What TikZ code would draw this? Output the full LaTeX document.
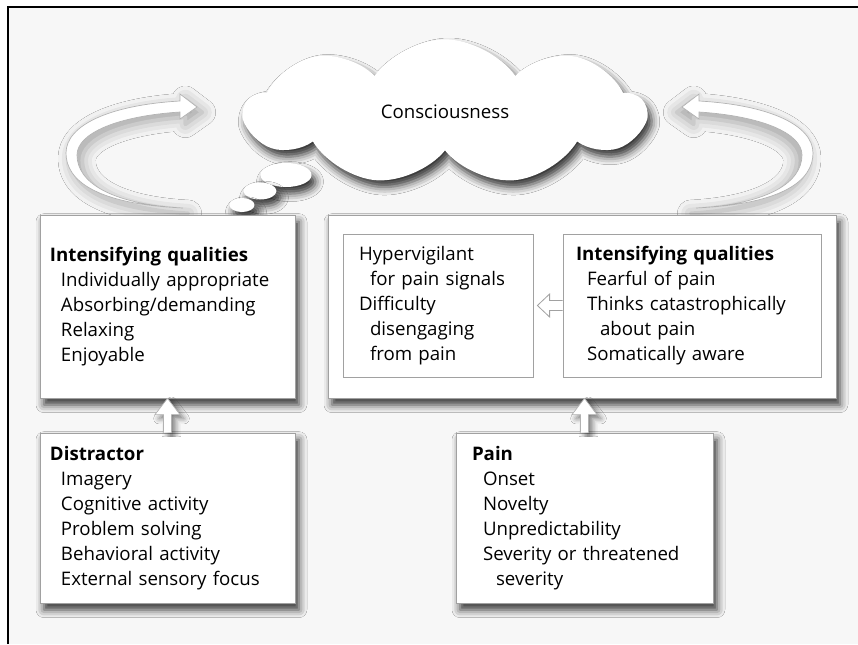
\documentclass[tikz,border=0pt]{standalone}
\usepackage{fontspec}
\setmainfont{Open Sans}
\usetikzlibrary{positioning,calc,shapes.symbols,shadows.blur}

\newcommand{\indA}{\hspace*{8.25pt}}
\newcommand{\indB}{\hspace*{18pt}}

\tikzset{
  softshadow/.style={blur shadow={shadow xshift=3pt,shadow yshift=-5pt,shadow blur radius=6pt,shadow opacity=80}},
  loopshadow/.style={blur shadow={shadow xshift=4pt,shadow yshift=-4pt,shadow blur radius=10pt,shadow opacity=35}},
  panel/.style={draw=black!37,fill=white,line width=0.6pt,align=left,inner ysep=0pt,softshadow},
  inbox/.style={draw=black!37,fill=white,line width=0.6pt,align=left,inner ysep=0pt},
  blockup/.style={draw=black!30,fill=white,line width=0.5pt,blur shadow={shadow xshift=3pt,shadow yshift=-3pt,shadow blur radius=4pt,shadow opacity=50}},
  hollowar/.style={draw=black!37,fill=white,line width=0.6pt},
  loopar/.pic={
    \fill[white,draw=black!30,line width=0.5pt,loopshadow] (183,208) .. controls (95,204) and (66,180) .. (66,153)
      .. controls (66,125) and (110,105) .. (180,101) -- (180,94) -- (197,107) -- (180,119) -- (180,112)
      .. controls (118,116) and (77,133) .. (77,155) .. controls (77,182) and (110,204) .. (183,208) -- cycle;
  }
}

\begin{document}
\begin{tikzpicture}[x=0.75pt,y=-0.75pt,font=\fontsize{14}{18.75}\selectfont]
\useasboundingbox (0,0) rectangle (858,644);
\fill[black!3] (8,7) rectangle (858,644);
\draw[line width=1.9pt] (8,644) -- (8,7) -- (858,7);

% loop arrows round the cloud
\pic at (0,0) {loopar};
\pic[xscale=-1,loopshadow/.style={blur shadow={shadow xshift=-4pt,shadow yshift=-4pt,shadow blur radius=10pt,shadow opacity=35}}] at (879,0) {loopar};

% cloud and bubbles
\node[cloud,cloud puffs=9,cloud puff arc=110,cloud ignores aspect,fill=white,minimum width=300pt,minimum height=109pt,softshadow] (con) at (445,112) {Consciousness};
\fill[white,softshadow] (286,175) ellipse [x radius=25.5,y radius=12];
\fill[white,softshadow] (260,191) ellipse [x radius=16.5,y radius=8.5];
\fill[white,softshadow] (242,205) ellipse [x radius=12.5,y radius=7];

% boxes
\node[panel,minimum width=191.25pt,minimum height=137.25pt,text width=176.25pt,inner xsep=7.5pt] (a) at (167.5,306.5)
  {\textbf{Intensifying qualities}\\ \indA Individually appropriate\\ \indA Absorbing/demanding\\ \indA Relaxing\\ \indA Enjoyable};
\node[panel,minimum width=381pt,minimum height=137.25pt] (b) at (582,306.5) {};
\node[inbox,minimum width=142.5pt,minimum height=107.25pt,text width=118.5pt,inner xsep=12pt] (h) at (438,305.5)
  {Hypervigilant\\ \indA for pain signals\\ Difficulty\\ \indA disengaging\\ \indA from pain};
\node[inbox,minimum width=193.5pt,minimum height=107.25pt,text width=174pt,inner xsep=9.75pt] (q) at (692,305.5)
  {\textbf{Intensifying qualities}\\ \indA Fearful of pain\\ \indA Thinks catastrophically\\ \indB about pain\\ \indA Somatically aware};
\node[panel,minimum width=191.25pt,minimum height=127.5pt,text width=176.25pt,inner xsep=7.5pt] (dis) at (167.5,518)
  {\textbf{Distractor}\\ \indA Imagery\\ \indA Cognitive activity\\ \indA Problem solving\\ \indA Behavioral activity\\ \indA External sensory focus};
\node[panel,minimum width=192.75pt,minimum height=127.5pt,text width=168.75pt,inner xsep=12pt] (pain) at (584.5,518)
  {\textbf{Pain}\\ \indA Onset\\ \indA Novelty\\ \indA Unpredictability\\ \indA Severity or threatened\\ \indB severity};

% arrows
\draw[hollowar] ($(q.west)+(0,-5)$) -- ($(q.west)+(-13,-5)$) -- ($(q.west)+(-13,-11.5)$) -- ($(h.east)+(4,0)$)
  -- ($(q.west)+(-13,11.5)$) -- ($(q.west)+(-13,5)$) -- ($(q.west)+(0,5)$);
\path[blockup] ($(dis.north)+(-4,0)$) -- ($(dis.north)+(-4,-18)$) -- ($(dis.north)+(-12.5,-18)$) -- (dis.north |- a.south)
  -- ($(dis.north)+(12.5,-18)$) -- ($(dis.north)+(4,-18)$) -- ($(dis.north)+(4,0)$);
\path[blockup] ($(pain.north)+(-4,0)$) -- ($(pain.north)+(-4,-18)$) -- ($(pain.north)+(-12.5,-18)$) -- (pain.north |- b.south)
  -- ($(pain.north)+(12.5,-18)$) -- ($(pain.north)+(4,-18)$) -- ($(pain.north)+(4,0)$);
\end{tikzpicture}
\end{document}
